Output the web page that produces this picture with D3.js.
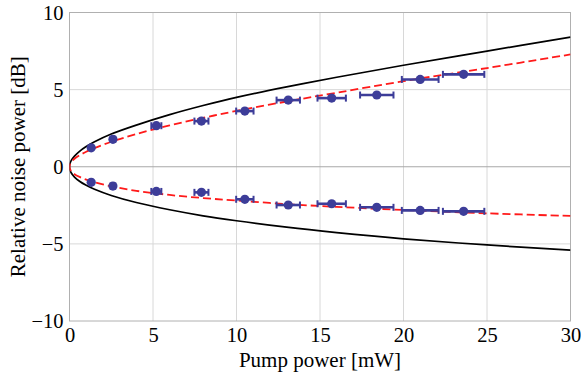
<!DOCTYPE html>
<html><head><meta charset="utf-8">
<script src="https://cdn.jsdelivr.net/npm/d3@7"></script>
<style>body{margin:0;background:#fff}svg{display:block}</style>
</head><body><svg id="c" width="581" height="379"></svg>
<script>
// measured data
const pumpPower = [1.3, 2.6, 5.2, 7.9, 10.5, 13.1, 15.7, 18.4, 21.0, 23.6];
const pumpErr = [0.07, 0.14, 0.3, 0.42, 0.52, 0.7, 0.85, 1.0, 1.1, 1.24];
const antiSqueezing = [1.23, 1.78, 2.66, 2.96, 3.61, 4.32, 4.45, 4.65, 5.66, 5.99];
const squeezing = [-1.01, -1.25, -1.6, -1.66, -2.11, -2.48, -2.40, -2.63, -2.83, -2.89];
// curves
const curveX = [0, 0.02, 0.1, 0.3, 0.6, 1, 1.5, 2.5, 4, 6, 8, 10, 13, 16, 20, 25, 30];
const theoryUpper = [0, 0.17, 0.40, 0.69, 1.0, 1.31, 1.62, 2.12, 2.7, 3.38, 3.97, 4.5, 5.18, 5.8, 6.58, 7.5, 8.4];
const theoryLower = [0, -0.17, -0.39, -0.67, -0.94, -1.2, -1.46, -1.86, -2.32, -2.79, -3.18, -3.5, -3.92, -4.27, -4.67, -5.07, -5.4];
const fitUpper = [0, 0.13, 0.29, 0.52, 0.74, 0.97, 1.21, 1.62, 2.12, 2.68, 3.17, 3.62, 4.23, 4.8, 5.55, 6.4, 7.28];
const fitLower = [0, -0.12, -0.28, -0.48, -0.66, -0.84, -1.01, -1.27, -1.56, -1.83, -2.03, -2.19, -2.42, -2.6, -2.8, -3.02, -3.19];
const xTicks = [0, 5, 10, 15, 20, 25, 30];
const yTicks = [-10, -5, 0, 5, 10];
const xLabel = "Pump power [mW]";
const yLabel = "Relative noise power [dB]";

const FONT = "'Liberation Serif', Tinos, 'Times New Roman', Times, serif";
const svg = d3.select("#c");
const x = d3.scaleLinear().domain([0, 30]).range([69.5, 570.5]);
const y = d3.scaleLinear().domain([-10, 10]).range([321, 12.5]);
const fs = 20.5;

svg.append("defs").append("clipPath").attr("id","clip").append("rect")
  .attr("x", x(0)).attr("y", y(10)).attr("width", x(30)-x(0)).attr("height", y(-10)-y(10));

// grid
const g = svg.append("g");
g.selectAll(".vx").data(xTicks.filter(d => d > 0 && d < 30)).join("line")
  .attr("x1", d => x(d)).attr("x2", d => x(d)).attr("y1", y(10)).attr("y2", y(-10))
  .attr("stroke", "#d8d8d8").attr("stroke-width", 1);
g.selectAll(".hy").data(yTicks.filter(d => d !== 0 && Math.abs(d) < 10)).join("line")
  .attr("x1", x(0)).attr("x2", x(30)).attr("y1", d => y(d)).attr("y2", d => y(d))
  .attr("stroke", "#d8d8d8").attr("stroke-width", 1);
g.append("line").attr("x1", x(0)).attr("x2", x(30)).attr("y1", y(0)).attr("y2", y(0))
  .attr("stroke", "#a8a8a8").attr("stroke-width", 1);
g.append("rect").attr("x", x(0)).attr("y", y(10)).attr("width", x(30)-x(0)).attr("height", y(-10)-y(10))
  .attr("fill", "none").attr("stroke", "#b0b0b0").attr("stroke-width", 1);

// axes
const xAxis = svg.append("g").attr("transform", `translate(0,${y(-10)})`)
  .call(d3.axisBottom(x).tickValues(xTicks).tickSize(0).tickPadding(5).tickFormat(d3.format("d")));
xAxis.select(".domain").remove();
xAxis.attr("font-family", null).attr("font-size", null);
xAxis.selectAll("text").style("font-family", FONT).style("font-size", fs + "px").attr("fill", "#000").attr("dy", "0.76em");

const yAxis = svg.append("g").attr("transform", `translate(${x(0)},0)`)
  .call(d3.axisLeft(y).tickValues(yTicks).tickSize(0).tickPadding(6)
    .tickFormat(d => d < 0 ? "\u2212" + Math.abs(d) : String(d)));
yAxis.select(".domain").remove();
yAxis.attr("font-family", null).attr("font-size", null);
yAxis.selectAll("text").style("font-family", FONT).style("font-size", fs + "px").attr("fill", "#000").attr("dy", "0.33em");

// titles
svg.append("text").attr("x", (x(0)+x(30))/2).attr("y", 367).attr("text-anchor", "middle")
  .style("font-family", FONT).style("font-size", "21px").text(xLabel);
svg.append("text").attr("transform", `translate(25,${y(0)}) rotate(-90)`).attr("text-anchor", "middle")
  .style("font-family", FONT).style("font-size", "21px").text(yLabel);

// curves
function joined(up, lo) {
  const pts = [];
  for (let i = curveX.length - 1; i >= 1; i--) pts.push([curveX[i], lo[i]]);
  for (let i = 0; i < curveX.length; i++) pts.push([curveX[i], up[i]]);
  return pts;
}
const line = d3.line().x(d => x(d[0])).y(d => y(d[1])).curve(d3.curveCatmullRom.alpha(0.5));
const cg = svg.append("g").attr("clip-path", "url(#clip)");
cg.append("path").attr("d", line(joined(theoryUpper, theoryLower)))
  .attr("fill", "none").attr("stroke", "#000").attr("stroke-width", 1.7);
cg.append("path").attr("d", line(joined(fitUpper, fitLower)))
  .attr("fill", "none").attr("stroke", "#ff1a1a").attr("stroke-width", 1.8).attr("stroke-dasharray", "8,4");

// data points with error bars
const col = "#3d3d99";
const pts = [];
pumpPower.forEach((p, i) => { pts.push({p, e: pumpErr[i], v: antiSqueezing[i]}); pts.push({p, e: pumpErr[i], v: squeezing[i]}); });
const dg = svg.append("g");
const eb = dg.selectAll(".eb").data(pts).join("g");
eb.append("line").attr("x1", d => x(d.p - d.e)).attr("x2", d => x(d.p + d.e))
  .attr("y1", d => y(d.v)).attr("y2", d => y(d.v)).attr("stroke", col).attr("stroke-width", 2.6);
eb.append("line").attr("x1", d => x(d.p - d.e)).attr("x2", d => x(d.p - d.e))
  .attr("y1", d => y(d.v) - 3.5).attr("y2", d => y(d.v) + 3.5).attr("stroke", col).attr("stroke-width", 2);
eb.append("line").attr("x1", d => x(d.p + d.e)).attr("x2", d => x(d.p + d.e))
  .attr("y1", d => y(d.v) - 3.5).attr("y2", d => y(d.v) + 3.5).attr("stroke", col).attr("stroke-width", 2);
eb.append("circle").attr("cx", d => x(d.p)).attr("cy", d => y(d.v)).attr("r", 4.6).attr("fill", col);
</script></body></html>
